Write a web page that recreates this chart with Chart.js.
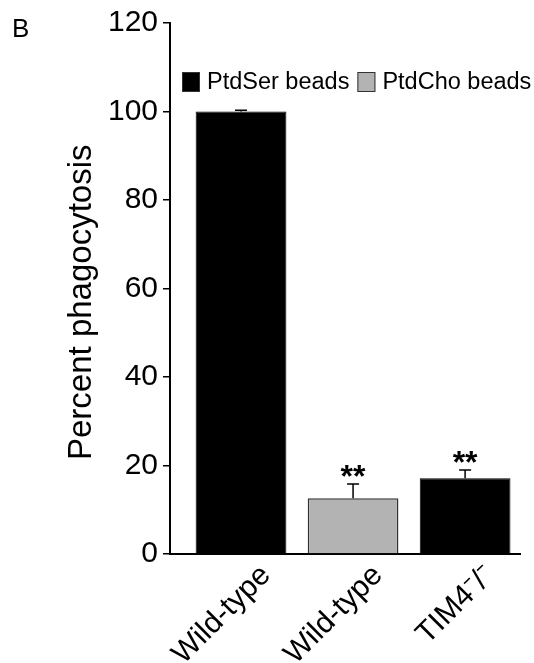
<!DOCTYPE html>
<html>
<head>
<meta charset="utf-8">
<script src="https://cdn.jsdelivr.net/npm/chart.js@4.4.1/dist/chart.umd.min.js"></script>
<style>
  html, body { margin: 0; padding: 0; background: #fff; }
  #wrap { width: 534px; height: 663px; position: relative; }
</style>
</head>
<body>
<div id="wrap"><canvas id="chart"></canvas></div>
<script>
const categories = ['Wild-type', 'Wild-type', 'TIM4\u207B/\u207B'];
const ptdSerValues = [100, null, 17.1];
const ptdChoValues = [null, 12.6, null];
const errorValues = [0.3, 3.2, 1.9];
const significance = ['', '**', '**'];
const yTicks = [0, 20, 40, 60, 80, 100, 120];

const FONT = '"Liberation Sans", Arial, Helvetica, sans-serif';

const toPoints = (vals) => vals
  .map((v, i) => (v === null ? null : { x: i, y: v }))
  .filter((p) => p !== null);

// error bars + significance stars + panel letter + legend
const annotations = {
  id: 'annotations',
  afterDatasetsDraw(chart) {
    const { ctx, scales: { x, y } } = chart;
    ctx.save();
    ctx.strokeStyle = '#000';
    ctx.lineWidth = 1.5;
    categories.forEach((c, i) => {
      const v = ptdSerValues[i] !== null ? ptdSerValues[i] : ptdChoValues[i];
      const px = x.getPixelForValue(i);
      const top = y.getPixelForValue(v);
      const errTop = y.getPixelForValue(v + errorValues[i]);
      ctx.beginPath();
      ctx.moveTo(px, top);
      ctx.lineTo(px, errTop);
      ctx.moveTo(px - 6, errTop);
      ctx.lineTo(px + 6, errTop);
      ctx.stroke();
      if (significance[i]) {
        ctx.fillStyle = '#000';
        ctx.font = 'bold 32px ' + FONT;
        ctx.textAlign = 'center';
        ctx.textBaseline = 'alphabetic';
        ctx.fillText(significance[i], px, errTop + 3);
      }
    });

    // panel letter
    ctx.fillStyle = '#000';
    ctx.font = '26px ' + FONT;
    ctx.textAlign = 'left';
    ctx.textBaseline = 'alphabetic';
    ctx.fillText('B', 12, 37);

    // legend inside the plot area
    let lx = 182;
    const ly = 72;
    ctx.font = '23.5px ' + FONT;
    ctx.textBaseline = 'middle';
    chart.data.datasets.forEach((ds) => {
      ctx.fillStyle = ds.backgroundColor;
      ctx.fillRect(lx, ly, 18, 20);
      ctx.lineWidth = 1;
      ctx.strokeStyle = '#333';
      ctx.strokeRect(lx + 0.5, ly + 0.5, 17, 19);
      ctx.fillStyle = '#000';
      ctx.fillText(ds.label, lx + 25, ly + 11);
      lx += 25 + ctx.measureText(ds.label).width + 8;
    });
    ctx.restore();
  }
};

new Chart(document.getElementById('chart'), {
  type: 'bar',
  data: {
    datasets: [
      {
        label: 'PtdSer beads',
        data: toPoints(ptdSerValues),
        backgroundColor: '#000000',
        borderColor: '#000000',
        borderWidth: 1
      },
      {
        label: 'PtdCho beads',
        data: toPoints(ptdChoValues),
        backgroundColor: '#b3b3b3',
        borderColor: '#333333',
        borderWidth: 1.5
      }
    ]
  },
  options: {
    responsive: true,
    maintainAspectRatio: false,
    animation: false,
    layout: { padding: { top: 22, right: 14, left: 0, bottom: 0 } },
    datasets: {
      bar: { grouped: false, barPercentage: 0.81, categoryPercentage: 1 }
    },
    plugins: {
      legend: { display: false },
      tooltip: { enabled: false }
    },
    scales: {
      x: {
        type: 'linear',
        offset: false,
        min: -0.634,
        max: 2.49,
        afterBuildTicks: (scale) => {
          scale.ticks = categories.map((c, i) => ({ value: i }));
        },
        afterFit: (scale) => { scale.height = 109; },
        grid: { display: false, drawTicks: false },
        border: { display: true, color: '#000', width: 2 },
        ticks: {
          autoSkip: false,
          minRotation: 45,
          maxRotation: 45,
          labelOffset: 25,
          padding: 4,
          color: '#000',
          font: { family: FONT, size: 30 },
          callback: (v) => categories[v]
        }
      },
      y: {
        min: 0,
        max: 120,
        afterBuildTicks: (scale) => {
          scale.ticks = yTicks.map((v) => ({ value: v }));
        },
        afterFit: (scale) => { scale.width = 170; },
        grid: { drawOnChartArea: false, drawTicks: true, tickLength: 7, color: '#000', lineWidth: 1.5 },
        border: { display: true, color: '#000', width: 2 },
        ticks: {
          padding: 5,
          color: '#000',
          font: { family: FONT, size: 30 }
        },
        title: {
          display: true,
          text: 'Percent phagocytosis   ',
          color: '#000',
          font: { family: FONT, size: 33 },
          padding: { top: 62, bottom: 0 }
        }
      }
    }
  },
  plugins: [annotations]
});
</script>
</body>
</html>
